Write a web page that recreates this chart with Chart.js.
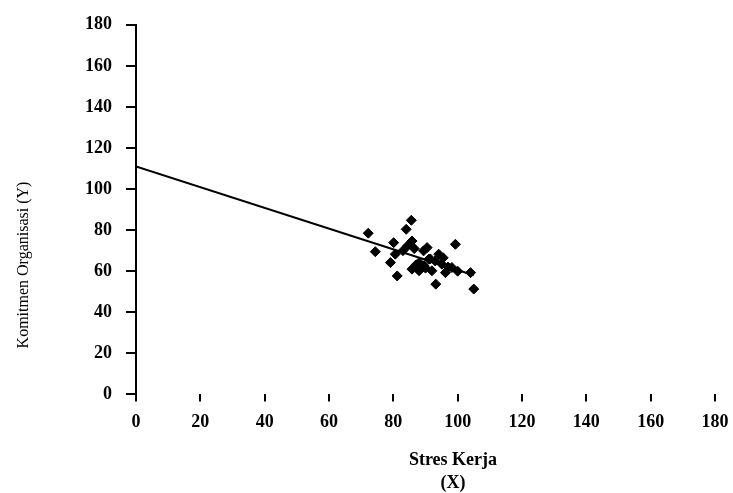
<!DOCTYPE html>
<html>
<head>
<meta charset="utf-8">
<style>
  html, body { margin: 0; padding: 0; background: #fff; }
  #wrap { width: 733px; height: 493px; }
</style>
<script src="https://cdn.jsdelivr.net/npm/chart.js@4.4.0/dist/chart.umd.min.js"></script>
</head>
<body>
<div id="wrap"><canvas id="myChart"></canvas></div>
<script>
// Stres Kerja (X) vs Komitmen Organisasi (Y)
var stresX = [72.2, 85.6, 84.0, 80.1, 85.8, 74.4, 80.6, 79.1, 81.2, 85.8,
              99.3, 89.4, 94.1, 91.0, 88.0, 95.1, 98.2, 92.0, 104.0, 88.0,
              96.2, 93.2, 105.0, 89.5, 90.5, 86.5, 83.0, 91.5, 93.0, 97.0,
              100.0, 87.0, 84.5, 90.0, 95.5];
var komitmenY = [78.5, 84.8, 80.4, 73.9, 74.7, 69.5, 68.3, 64.2, 57.7, 61.0,
                 73.1, 69.9, 68.3, 65.8, 64.2, 63.4, 61.8, 60.2, 59.3, 60.2,
                 59.3, 53.7, 51.3, 62.6, 71.5, 71.0, 70.0, 66.0, 65.0, 62.0,
                 60.0, 63.0, 72.5, 61.5, 66.5];
// trend line (two end points)
var trendX = [0, 105];
var trendY = [111, 58];
var tickStep = 20;
var axisMax = 180;
var xTitle = ['Stres Kerja', '(X)'];
var yTitleText = 'Komitmen Organisasi (Y)';

var points = stresX.map(function (x, i) { return { x: x, y: komitmenY[i] }; });
var trend = trendX.map(function (x, i) { return { x: x, y: trendY[i] }; });

// axis titles sit off-centre in the original, so they are drawn here
var axisTitles = {
  id: 'axisTitles',
  afterDraw: function (chart) {
    var ctx = chart.ctx;
    ctx.save();
    ctx.fillStyle = '#000';
    ctx.textAlign = 'center';
    ctx.textBaseline = 'middle';
    ctx.font = 'bold 18px "Liberation Serif"';
    ctx.fillText(xTitle[0], 453, 460);
    ctx.fillText(xTitle[1], 453, 483);
    ctx.translate(24, 265);
    ctx.rotate(-Math.PI / 2);
    ctx.font = '16px "Liberation Serif"';
    ctx.fillText(yTitleText, 0, 0);
    ctx.restore();
  }
};

var tickFont = { family: '"Liberation Serif"', size: 18, weight: 'bold' };

var ctx = document.getElementById('myChart').getContext('2d');
var chart = new Chart(ctx, {
  type: 'scatter',
  data: {
    datasets: [{
      label: 'Data',
      data: points,
      backgroundColor: '#000',
      borderColor: '#000',
      pointStyle: 'rectRot',
      pointRadius: 5,
      pointHoverRadius: 5
    }, {
      type: 'line',
      label: 'Trend',
      data: trend,
      borderColor: '#000',
      borderWidth: 2,
      pointRadius: 0,
      fill: false
    }]
  },
  options: {
    responsive: true,
    maintainAspectRatio: false,
    animation: false,
    layout: { padding: { left: 71, right: 4, top: 13, bottom: 50 } },
    plugins: {
      legend: { display: false },
      tooltip: { enabled: false }
    },
    scales: {
      x: {
        type: 'linear',
        min: 0,
        max: axisMax,
        afterFit: function (scale) { scale.paddingRight = 18; },
        ticks: { stepSize: tickStep, color: '#000', font: tickFont, padding: 10 },
        grid: { display: true, drawOnChartArea: false, drawTicks: true, tickLength: 7, color: '#000', lineWidth: 2 },
        border: { display: false }
      },
      y: {
        type: 'linear',
        min: 0,
        max: axisMax,
        ticks: { stepSize: tickStep, color: '#000', font: tickFont, padding: 14 },
        grid: { display: true, drawOnChartArea: false, drawTicks: true, tickLength: 10, color: '#000', lineWidth: 2 },
        border: { color: '#000', width: 2 }
      }
    }
  },
  plugins: [axisTitles]
});
</script>
</body>
</html>
